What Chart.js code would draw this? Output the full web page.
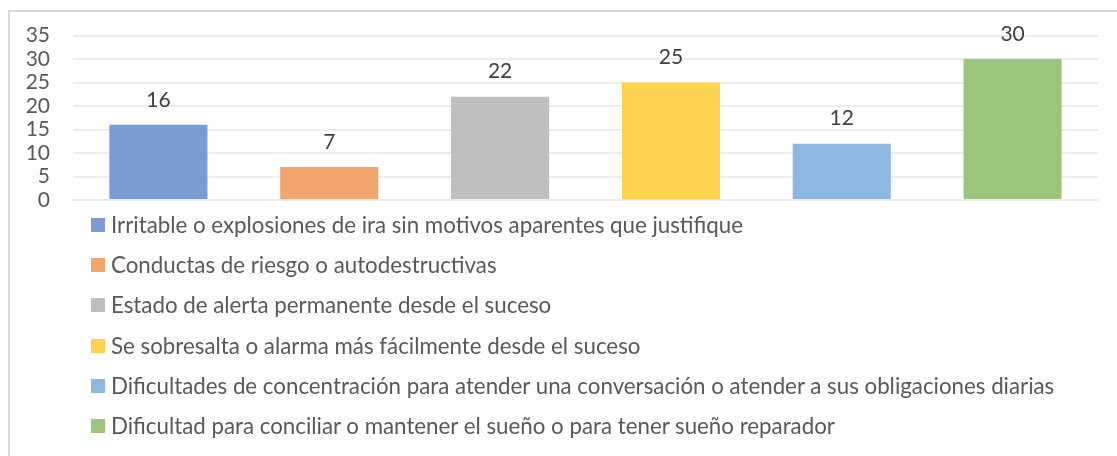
<!DOCTYPE html>
<html>
<head>
<meta charset="utf-8">
<script src="https://cdn.jsdelivr.net/npm/chart.js@4"></script>
<style>
  html, body { margin: 0; padding: 0; background: #fff; }
  #wrap { position: relative; width: 1117px; height: 456px; overflow: hidden; }
  #frame { position: absolute; left: 8px; top: 10px; width: 1120px; height: 460px;
           border-left: 2px solid #d9d9d9; border-top: 2px solid #d9d9d9; box-sizing: border-box; }
  #chart { position: absolute; left: 0; top: 0; }
  #legend { position: absolute; left: 91px; top: 211px; margin: 0; padding: 0; list-style: none;
            font-family: Lato, "Open Sans", sans-serif; font-size: 22.3px; color: #595959; }
  #legend li { height: 40.2px; display: flex; align-items: flex-start; white-space: nowrap; }
  #legend .box { width: 14px; height: 14px; margin: 7px 6px 0 0; flex: none; }
</style>
</head>
<body>
<div id="wrap">
  <div id="frame"></div>
  <canvas id="chart" width="1117" height="456"></canvas>
  <ul id="legend"></ul>
</div>
<script>
const categories = [
  'Irritable o explosiones de ira sin motivos aparentes que justifique',
  'Conductas de riesgo o autodestructivas',
  'Estado de alerta permanente desde el suceso',
  'Se sobresalta o alarma más fácilmente desde el suceso',
  'Dificultades de concentración para atender una conversación o atender a sus obligaciones diarias',
  'Dificultad para conciliar o mantener el sueño o para tener sueño reparador'
];
const values = [16, 7, 22, 25, 12, 30];
const barColors = ['#7a9cd5', '#f1a46c', '#bfbfbf', '#ffd34f', '#8bb7e0', '#9bc47c'];
const yTicks = [0, 5, 10, 15, 20, 25, 30, 35];

// draws the number above each bar
const valueLabels = {
    id: 'valueLabels',
    afterDatasetsDraw(chart) {
        const ctx = chart.ctx;
        const meta = chart.getDatasetMeta(0);
        ctx.save();
        ctx.font = '21px Lato, "Open Sans", sans-serif';
        ctx.fillStyle = '#404040';
        ctx.textAlign = 'center';
        ctx.textBaseline = 'middle';
        meta.data.forEach((bar, i) => {
            ctx.fillText(String(values[i]), bar.x, bar.y - 25);
        });
        ctx.restore();
    }
};

const chart = new Chart(document.getElementById('chart'), {
    type: 'bar',
    data: {
        labels: categories,
        datasets: [{
            data: values,
            backgroundColor: barColors,
            borderWidth: 0,
            categoryPercentage: 1,
            barPercentage: 0.574
        }]
    },
    options: {
        responsive: false,
        animation: false,
        layout: { padding: { top: 34, right: 19, bottom: 256, left: 0 } },
        plugins: { legend: { display: false }, tooltip: { enabled: false } },
        scales: {
            x: { display: false },
            y: {
                min: 0,
                max: 35,
                afterFit: s => { s.width = 73; },
                afterBuildTicks: s => { s.ticks = yTicks.map(v => ({ value: v })); },
                border: { display: false },
                grid: { color: '#ececec', lineWidth: 2, drawTicks: false },
                ticks: {
                    autoSkip: false,
                    padding: 23,
                    color: '#595959',
                    font: { family: 'Lato, "Open Sans", sans-serif', size: 21 }
                }
            }
        }
    },
    plugins: [valueLabels]
});

const legend = document.getElementById('legend');
categories.forEach((name, i) => {
    const li = document.createElement('li');
    li.innerHTML = `<span class="box" style="background:${barColors[i]}"></span><span>${name}</span>`;
    legend.appendChild(li);
});
</script>
</body>
</html>
